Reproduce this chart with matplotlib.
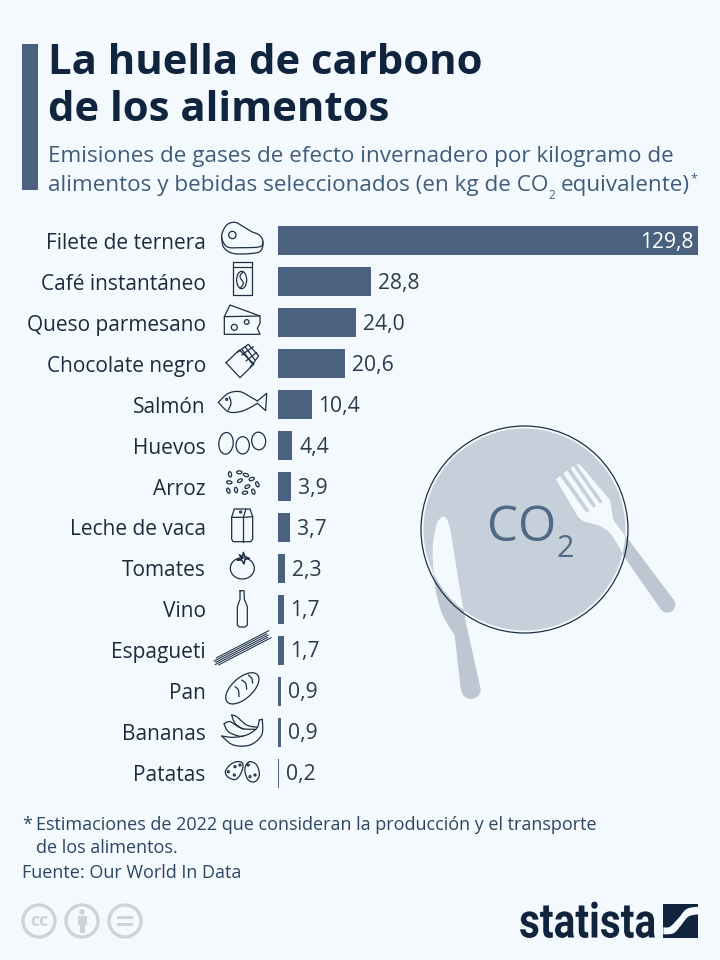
import numpy as np
import matplotlib
matplotlib.use("Agg")
import matplotlib.pyplot as plt
from matplotlib.patches import Circle, Ellipse, Polygon, Rectangle
from matplotlib.patheffects import AbstractPathEffect
from matplotlib.transforms import Affine2D

# ---------- data ----------
categories = ["Filete de ternera", "Café instantáneo", "Queso parmesano", "Chocolate negro",
              "Salmón", "Huevos", "Arroz", "Leche de vaca", "Tomates", "Vino",
              "Espagueti", "Pan", "Bananas", "Patatas"]
values = [129.8, 28.8, 24.0, 20.6, 10.4, 4.4, 3.9, 3.7, 2.3, 1.7, 1.7, 0.9, 0.9, 0.2]

BG = "#f4f9fd"; BAR = "#4a6280"; DARK = "#10243e"; SUB = "#3f5c7a"; LAB = "#1c2c3e"
PLATE = "#c6d0da"; HAND = "#bcc7d2"; LINE = "#1d2f45"; CCG = "#ccd3d9"
plt.rcParams["font.family"] = ["Open Sans", "DejaVu Sans"]

W, H = 720, 960
fig = plt.figure(figsize=(W / 100, H / 100), dpi=100, facecolor=BG)

pg = fig.add_axes([0, 0, 1, 1], zorder=1)
pg.set_xlim(0, W); pg.set_ylim(H, 0); pg.axis("off")

def T(x, y, s, **k):
    k.setdefault("va", "baseline")
    return pg.text(x, y, s, **k)

def smooth(pts, closed=False, n=12):
    p = np.array(pts, float)
    if closed:
        p = np.vstack([p[-1], p, p[0], p[1]])
    else:
        p = np.vstack([p[0], p, p[-1]])
    out = []
    for i in range(1, len(p) - 2):
        a, b, c, d = p[i - 1], p[i], p[i + 1], p[i + 2]
        for t in np.linspace(0, 1, n, endpoint=False):
            out.append(0.5 * (2 * b + (c - a) * t + (2 * a - 5 * b + 4 * c - d) * t ** 2 + (3 * b - a - 3 * c + d) * t ** 3))
    out.append(p[-2])
    return np.array(out)

def arc(cx, cy, r, a0, a1, n=14):
    t = np.radians(np.linspace(a0, a1, n))
    return np.column_stack([cx + r * np.cos(t), cy + r * np.sin(t)])

# ---------- header ----------
pg.add_patch(Rectangle((22, 44), 16, 146, fc=BAR, ec="none"))
T(48, 74, "La huella de carbono", fontsize=30.2, fontweight="bold", color=DARK)
T(48, 121, "de los alimentos", fontsize=30.2, fontweight="bold", color=DARK)
T(48, 162, "Emisiones de gases de efecto invernadero por kilogramo de", fontsize=16.2, color=SUB)
T(48, 191, "alimentos y bebidas seleccionados (en kg de CO", fontsize=16.2, color=SUB)
T(548, 199, "2", fontsize=8.5, color=SUB)
T(561, 191, "equivalente)", fontsize=16.2, color=SUB)
T(690, 182, "*", fontsize=9, color=SUB)

# ---------- plate, knife and fork ----------
def z(pts):
    return np.array([(410 + x / 3, 440 + y / 3) for x, y in pts])

knife = np.vstack([
    [(112, 238), (120, 265), (165, 540)],
    arc(183, 748, 28, 0, 175),
    smooth([(153, 745), (135, 585)], n=1),
    smooth([(128, 575), (95, 515), (75, 430), (68, 330), (78, 260), (88, 238), (100, 230), (112, 238)]),
])
fork = np.vstack([
    [(438, 118)],
    smooth([(505, 232), (525, 245), (570, 258), (605, 285), (640, 345)]),
    arc(772, 494, 23, 143, -37),
    [(655, 300), (610, 240), (600, 180), (510, 74), (498, 72),
     (578, 185), (570, 191), (490, 78), (482, 86),
     (558, 197), (550, 204), (472, 92), (460, 100),
     (538, 212), (530, 219), (450, 108)],
])
knife, fork = z(knife), z(fork)
for poly in (knife, fork):
    pg.add_patch(Polygon(poly, closed=True, fc=HAND, ec=HAND, lw=0.5, joinstyle="round"))
cx, cy = 524.5, 529.5
plate = Circle((cx, cy), 101, fc=PLATE, ec="none")
pg.add_patch(plate)
for poly in (knife, fork):
    p = Polygon(poly, closed=True, fc=BG, ec="none")
    pg.add_patch(p)
    p.set_clip_path(plate)
pg.add_patch(Circle((cx, cy), 103.5, fc="none", ec=LINE, lw=0.9))
T(487.5, 541, "CO", fontsize=35.5, color="#4f6a85")
T(556, 557, "2", fontsize=22, color="#4f6a85")

# ---------- chart ----------
ax = fig.add_axes([278 / W, 1 - 793.5 / H, 420 / W, 573 / H], zorder=2)
ax.patch.set_alpha(0)
ypos = np.arange(len(categories))
ax.barh(ypos, values, height=0.71, color=BAR)
ax.set_xlim(0, max(values)); ax.set_ylim(len(categories) - 0.5, -0.5)
ax.set_yticks(ypos, categories, fontsize=15, color=LAB)
ax.tick_params(axis="y", length=0, pad=52)
ax.xaxis.set_visible(False)
for s in ax.spines.values():
    s.set_visible(False)
for i, v in enumerate(values):
    lab = f"{v:.1f}".replace(".", ",")
    if i == 0:
        ax.annotate(lab, (v, i), xytext=(-3.5, -1.2), textcoords="offset points", ha="right", va="center",
                    color="white", fontsize=15.2)
    else:
        ax.annotate(lab, (v, i), xytext=(5, -1.2), textcoords="offset points", ha="left", va="center",
                    color="#2b3a4c", fontsize=15.2)

# ---------- icons ----------
LW = 0.9
def icon_tools(ox, oy):
    def m(pts):
        return [(ox + x / 3, oy + y / 3) for x, y in pts]
    def line(pts, sm=False, closed=False, lw=LW, color=LINE):
        q = np.array(m(pts))
        if sm:
            q = smooth(q, closed=closed)
        elif closed:
            q = np.vstack([q, q[0]])
        pg.plot(q[:, 0], q[:, 1], color=color, lw=lw, solid_capstyle="round", solid_joinstyle="round")
    def ell(x, y, w, h, a=0, lw=LW):
        pg.add_patch(Ellipse((ox + x / 3, oy + y / 3), w / 3, h / 3, angle=a, fc="none", ec=LINE, lw=lw))
    return line, ell

line, ell = icon_tools(200, 215)
# steak
line([(65, 60), (80, 30), (105, 22), (130, 35), (155, 50), (175, 58), (188, 75), (180, 95), (120, 98), (85, 97), (70, 82)], sm=True, closed=True)
line([(65, 65), (70, 95), (92, 113), (125, 117), (175, 112), (188, 95), (188, 78)], sm=True)
ell(97, 60, 22, 22)
# coffee
line([(98, 142), (156, 142), (156, 241), (98, 241)], closed=True)
line([(98, 156), (156, 156)])
ell(125, 195, 30, 52, 0)
line([(130, 170), (120, 185), (130, 205), (120, 220)], sm=True)
# cheese
line([(73, 305), (90, 270), (180, 303), (180, 325), (172, 340), (180, 358), (73, 358)], closed=True)
line([(73, 305), (180, 303)])
ell(103, 337, 18, 18); ell(140, 321, 14, 14)
# chocolate
line([(78, 443), (120, 488), (162, 447), (118, 405)], closed=True)
line([(112, 412), (145, 388), (176, 423), (150, 458)])
line([(125, 402), (155, 445)]); line([(135, 395), (165, 435)]); line([(125, 420), (160, 395)]); line([(138, 438), (170, 412)])
# fish
line([(55, 562), (85, 535), (120, 530), (150, 545), (172, 558)], sm=True)
line([(172, 558), (200, 535), (197, 587), (172, 565)])
line([(172, 565), (150, 578), (120, 590), (85, 590), (55, 562)], sm=True)
line([(88, 545), (93, 565), (85, 585)], sm=True)
ell(80, 553, 6, 6)
# eggs
ell(78, 685, 43, 65, 5); ell(128, 691, 40, 52); ell(176, 678, 42, 53, -5)
# rice
for x, y, a in [(90, 778, 80), (138, 780, 20), (88, 802, 10), (120, 797, -30), (155, 792, -20), (172, 808, 70),
                (85, 827, 70), (108, 825, 80), (142, 815, -30), (135, 833, -10), (160, 830, 70), (118, 772, 0)]:
    ell(x, y, 16, 9, a)

line, ell = icon_tools(200, 500)
# milk
line([(95, 52), (95, 118), (100, 125), (152, 125), (158, 118), (158, 50), (150, 27), (103, 27)], closed=True)
line([(95, 52), (130, 52), (138, 27)]); line([(130, 52), (130, 125)]); line([(130, 52), (158, 50)])
ell(122, 36, 6, 6)
# tomato
ell(127, 205, 72, 64)
line([(112, 180), (127, 175), (118, 165), (128, 170), (130, 157), (135, 170), (148, 175), (135, 178), (132, 192), (125, 180), (112, 180)], lw=1.1)
# bottle
line([(120, 272), (132, 272), (133, 298), (142, 320), (142, 375), (135, 381), (118, 381), (112, 375), (112, 320), (120, 298)], closed=True)
# spaghetti
for d, s0 in [(-10, 6), (-5, -3), (0, 0), (5, -4), (10, 4)]:
    line([(47 + s0 + d * 0.45, 487 - s0 * 0.5 + d), (205 + s0 + d * 0.45, 405 - s0 * 0.5 + d)], lw=0.75)
# bread
ell(127, 565, 122, 62, -42)
line([(105, 560), (115, 570), (117, 590)], sm=True); line([(125, 540), (137, 550), (140, 568)], sm=True); line([(145, 525), (155, 535), (158, 550)], sm=True)
# bananas
line([(65, 708), (100, 735), (150, 735), (185, 705), (187, 658)], sm=True)
line([(178, 660), (170, 685), (140, 705), (100, 712), (65, 708)], sm=True)
line([(178, 660), (187, 658)])
line([(72, 672), (90, 665), (125, 685), (165, 688)], sm=True)
line([(72, 672), (85, 695), (115, 708), (130, 708)], sm=True)
line([(95, 645), (110, 650), (140, 675), (172, 682)], sm=True)
line([(95, 645), (105, 670), (130, 688)], sm=True)
# potatoes
line([(110, 785), (128, 790), (125, 815), (108, 838), (85, 832), (76, 815), (90, 795)], sm=True, closed=True)
line([(150, 785), (170, 795), (178, 825), (165, 845), (145, 840), (135, 815), (138, 795)], sm=True, closed=True)
for x, y in [(105, 800), (120, 795), (103, 825), (85, 815), (145, 795), (150, 830), (165, 825)]:
    ell(x, y, 6, 6)

# ---------- footer ----------
FT = "#2b4562"
T(22, 830, "*", fontsize=13, color=FT)
T(36, 830, "Estimaciones de 2022 que consideran la producción y el transporte", fontsize=13, color=FT)
T(36, 853, "de los alimentos.", fontsize=13, color=FT)
T(22, 878, "Fuente: Our World In Data", fontsize=13, color=FT)

for x in (39, 82, 125):
    pg.add_patch(Circle((x, 921), 16, fc="none", ec=CCG, lw=2.4))
T(39, 921, "cc", fontsize=13, fontweight="bold", color=CCG, ha="center", va="center")
pg.add_patch(Circle((82, 912), 2.8, fc=CCG, ec="none"))
pg.add_patch(Rectangle((77.5, 916), 9, 9, fc=CCG, ec="none"))
pg.add_patch(Rectangle((79.5, 925), 5, 8, fc=CCG, ec="none"))
pg.add_patch(Rectangle((117, 916), 16, 3, fc=CCG, ec="none"))
pg.add_patch(Rectangle((117, 923), 16, 3, fc=CCG, ec="none"))

# condensed wordmark: real text, squeezed horizontally at draw time
class Squeeze(AbstractPathEffect):
    def __init__(self, sx, x0):
        super().__init__()
        self.sx, self.x0 = sx, x0
    def draw_path(self, renderer, gc, tpath, affine, rgbFace=None):
        a = affine + Affine2D().translate(-self.x0, 0).scale(self.sx, 1).translate(self.x0, 0)
        renderer.draw_path(gc, tpath, a, rgbFace)

T(519, 937.5, "statista", fontsize=35, fontweight="bold", color=DARK, family="Roboto",
  path_effects=[Squeeze(0.835, 519)])

pg.add_patch(Rectangle((663, 904), 35, 34, fc=DARK, ec="none"))
def lg(pts):
    return [(510 + x / 3, 895 + y / 3) for x, y in pts]
sw = np.vstack([smooth(lg([(460, 97), (480, 95), (505, 70), (530, 42), (565, 35)])),
                smooth(lg([(565, 58), (535, 65), (510, 95), (490, 115), (460, 118)]))])
pg.add_patch(Polygon(sw, closed=True, fc=BG, ec="none"))

fig.savefig("out.png", dpi=100, facecolor=BG)
